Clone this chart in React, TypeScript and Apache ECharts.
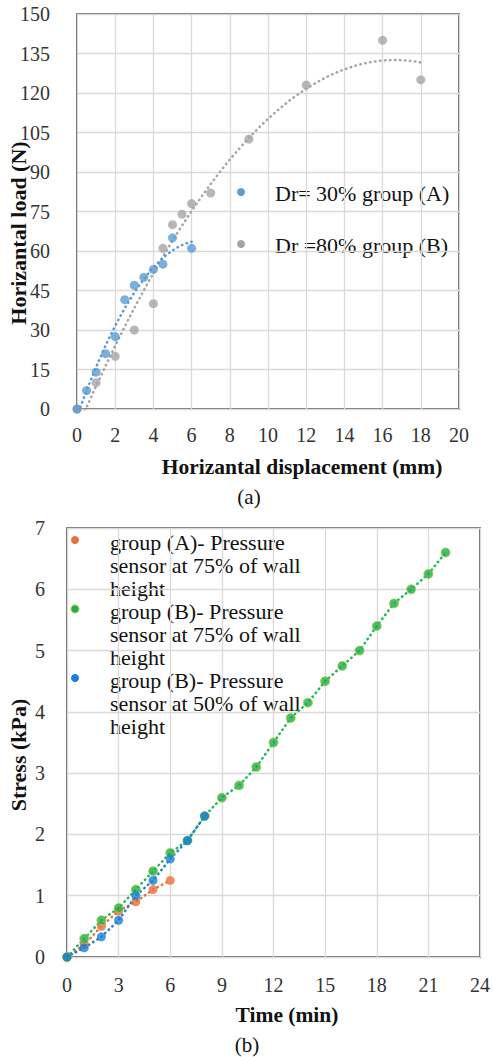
import React, { useEffect, useRef } from "react";
import * as echarts from "echarts";

// (a) horizontal load vs displacement
const dispA = [0, 0.5, 1, 1.5, 2, 2.5, 3, 3.5, 4, 4.5, 5, 6];
const loadA = [0, 7, 14, 21, 27.5, 41.5, 47, 50, 53, 55, 65, 61];
const dispB = [0, 1, 2, 3, 4, 4.5, 5, 5.5, 6, 7, 9, 12, 16, 18];
const loadB = [0, 10, 20, 30, 40, 61, 70, 74, 78, 82, 102.5, 123, 140, 125];
const xTicksA = [0, 20, 2];
const yTicksA = [0, 150, 15];

// (b) stress vs time
const timeA75 = [0, 1, 2, 3, 4, 5, 6];
const stressA75 = [0, 0.2, 0.5, 0.75, 0.9, 1.1, 1.25];
const timeB75 = [0, 1, 2, 3, 4, 5, 6, 7, 8, 9, 10, 11, 12, 13, 14, 15, 16, 17, 18, 19, 20, 21, 22];
const stressB75 = [0, 0.3, 0.6, 0.8, 1.1, 1.4, 1.7, 1.9, 2.3, 2.6, 2.8, 3.1, 3.5, 3.9, 4.15, 4.5, 4.75, 5.0, 5.4, 5.77, 6.0, 6.25, 6.6];
const timeB50 = [0, 1, 2, 3, 4, 5, 6, 7, 8];
const stressB50 = [0, 0.15, 0.33, 0.6, 1.0, 1.25, 1.6, 1.9, 2.3];
const xTicksB = [0, 24, 3];
const yTicksB = [0, 7, 1];

const legendA = ["Dr= 30% group (A)", "Dr =80% group (B)"];
const legendB = [
  ["group (A)- Pressure", "sensor at 75% of wall", "height"],
  ["group (B)- Pressure", "sensor at 75% of wall", "height"],
  ["group (B)- Pressure", "sensor at 50% of wall", "height"],
];

const BLUE_A = "#5B9BD5";
const GRAY_B = "#A5A5A5";
const ORANGE = "#E8703A";
const GREEN = "#1EAE4A";
const BLUE_B = "#1B7FD6";
const SERIF = "Liberation Serif";

// least-squares polynomial of order 2 (same as a spreadsheet trendline)
function quadFit(xs: number[], ys: number[]) {
  const s = [0, 0, 0, 0, 0];
  const t = [0, 0, 0];
  xs.forEach((x, i) => {
    for (let k = 0; k < 5; k++) s[k] += Math.pow(x, k);
    for (let k = 0; k < 3; k++) t[k] += ys[i] * Math.pow(x, k);
  });
  const m = [
    [s[0], s[1], s[2], t[0]],
    [s[1], s[2], s[3], t[1]],
    [s[2], s[3], s[4], t[2]],
  ];
  for (let c = 0; c < 3; c++) {
    for (let r = c + 1; r < 3; r++) {
      const f = m[r][c] / m[c][c];
      for (let k = c; k < 4; k++) m[r][k] -= f * m[c][k];
    }
  }
  const coef = [0, 0, 0];
  for (let r = 2; r >= 0; r--) {
    let v = m[r][3];
    for (let k = r + 1; k < 3; k++) v -= m[r][k] * coef[k];
    coef[r] = v / m[r][r];
  }
  return coef;
}

function trend(xs: number[], ys: number[]) {
  const [a, b, c] = quadFit(xs, ys);
  const lo = Math.min(...xs);
  const hi = Math.max(...xs);
  const pts: number[][] = [];
  const n = 80;
  for (let i = 0; i <= n; i++) {
    const x = lo + ((hi - lo) * i) / n;
    pts.push([x, a + b * x + c * x * x]);
  }
  return pts;
}

const zip = (xs: number[], ys: number[]) => xs.map((x, i) => [x, ys[i]]);

const dotted = (color: string) => ({
  color,
  width: 2.5,
  type: [0.5, 4.5] as number[],
  cap: "round" as const,
});

export default function App() {
  const ref = useRef<HTMLDivElement>(null);

  useEffect(() => {
    if (!ref.current) return;
    const chart = echarts.init(ref.current, undefined, { renderer: "svg" });

    const axisLabel = { color: "#333", fontFamily: SERIF, fontSize: 20 };
    const splitLine = { show: true, lineStyle: { color: "#d9d9d9", width: 1.3 } };
    const valueAxis = (gridIndex: number, ticks: number[], margin: number) => ({
      type: "value" as const,
      gridIndex,
      min: ticks[0],
      max: ticks[1],
      interval: ticks[2],
      axisLine: { show: false },
      axisTick: { show: false },
      splitLine,
      axisLabel: { ...axisLabel, margin },
    });

    const txt = (text: string, x: number, y: number, size: number, bold: boolean, extra: any = {}) => ({
      type: "text",
      x,
      y,
      ...extra,
      style: {
        text,
        fontFamily: SERIF,
        fontSize: size,
        fontWeight: bold ? "bold" : "normal",
        fill: "#111",
        align: extra.align || "center",
        verticalAlign: "middle",
      },
    });

    const graphic: any[] = [
      // axis titles and captions
      txt("Horizantal load (N)", 18, 233, 22, true, { rotation: Math.PI / 2 }),
      txt("Horizantal displacement (mm)", 302, 467, 21.5, true),
      txt("(a)", 249, 497, 21, false),
      txt("Stress (kPa)", 18, 755, 22, true, { rotation: Math.PI / 2 }),
      txt("Time (min)", 287, 1015, 21.5, true),
      txt("(b)", 247, 1045, 21, false),
    ];

    // legend of (a)
    [BLUE_A, GRAY_B].forEach((c, i) => {
      const y = 192 + i * 52;
      graphic.push({ type: "circle", shape: { cx: 241, cy: y, r: 4 }, style: { fill: c } });
      graphic.push(txt(legendA[i], 275, y + 1, 22, false, { align: "left" }));
    });

    // legend of (b)
    [ORANGE, GREEN, BLUE_B].forEach((c, i) => {
      const y = 540 + i * 69;
      graphic.push({ type: "circle", shape: { cx: 75, cy: y, r: 4 }, style: { fill: c, stroke: i === 1 ? "#9ccc3c" : undefined, lineWidth: 1 } });
      legendB[i].forEach((line, j) => {
        graphic.push(txt(line, 110, y + 2 + j * 23, 22, false, { align: "left" }));
      });
    });

    const scatter = (name: string, x: number, data: number[][], color: string, border?: string) => ({
      name,
      type: "scatter" as const,
      xAxisIndex: x,
      yAxisIndex: x,
      data,
      symbolSize: 9,
      itemStyle: { color, borderColor: border || color, borderWidth: border ? 1 : 0 },
      z: 3,
    });
    const line = (x: number, data: number[][], color: string) => ({
      type: "line" as const,
      xAxisIndex: x,
      yAxisIndex: x,
      data,
      showSymbol: false,
      lineStyle: dotted(color),
      z: 2,
    });

    chart.setOption({
      animation: false,
      backgroundColor: "#fff",
      textStyle: { fontFamily: SERIF },
      grid: [
        { left: 77, top: 14, width: 382, height: 395, show: true, borderColor: "#3a3a3a", borderWidth: 1.5, backgroundColor: "transparent" },
        { left: 67, top: 528, width: 413, height: 429, show: true, borderColor: "#3a3a3a", borderWidth: 1.5, backgroundColor: "transparent" },
      ],
      xAxis: [valueAxis(0, xTicksA, 16), valueAxis(1, xTicksB, 18)],
      yAxis: [valueAxis(0, yTicksA, 27), valueAxis(1, yTicksB, 22)],
      graphic,
      series: [
        line(0, trend(dispB, loadB), GRAY_B),
        line(0, trend(dispA, loadA), BLUE_A),
        scatter(legendA[1], 0, zip(dispB, loadB), GRAY_B),
        scatter(legendA[0], 0, zip(dispA, loadA), BLUE_A),
        line(1, zip(timeA75, stressA75), ORANGE),
        line(1, zip(timeB75, stressB75), "#22b85a"),
        line(1, zip(timeB50, stressB50), BLUE_B),
        scatter("A75", 1, zip(timeA75, stressA75), ORANGE),
        scatter("B75", 1, zip(timeB75, stressB75), GREEN, "#a4cf3a"),
        scatter("B50", 1, zip(timeB50, stressB50), BLUE_B),
      ],
    });

    return () => chart.dispose();
  }, []);

  return (
    <div
      ref={ref}
      style={{ position: "absolute", left: 0, top: 0, width: 493, height: 1057, background: "#fff" }}
    />
  );
}
